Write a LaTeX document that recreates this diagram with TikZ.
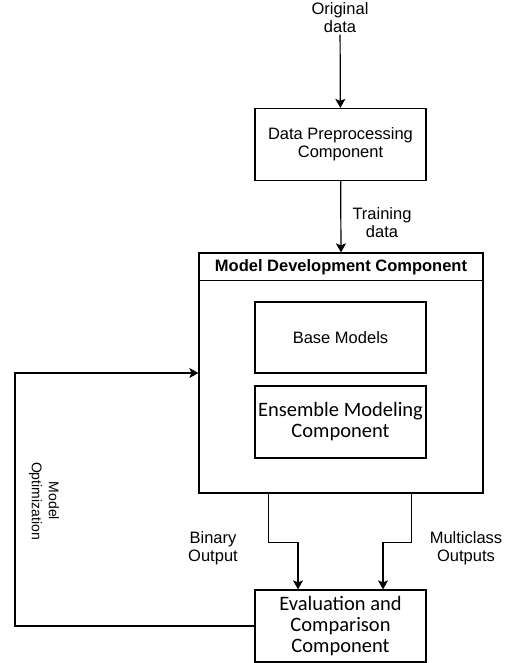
\documentclass[tikz,border=0pt]{standalone}
\usepackage{fontspec}
\setmainfont{Liberation Sans}
\newfontfamily\carlito{Carlito}
\usetikzlibrary{arrows.meta}
\begin{document}
\begin{tikzpicture}[x=1pt,y=-1pt,line width=1.2pt,
  box/.style={draw,minimum width=171pt,minimum height=72pt,align=center,inner sep=0pt},
  lbl/.style={align=center,inner sep=1pt},
  calibri/.style={font=\carlito\fontsize{20.5}{21}\selectfont},
  flow/.style={-{Stealth[length=9pt,width=10pt,inset=2pt]}}]
\useasboundingbox (0,0) rectangle (510,663);
\fontsize{16.5}{18}\selectfont
\node[lbl] (orig) at (340,18) {Original\\data};
\node[box] (dpc) at (340.5,144.5) {Data Preprocessing\\Component};
\node[draw,minimum width=284pt,minimum height=240pt,inner sep=0pt] (mdc) at (341,373) {};
\draw (mdc.north west) ++(0,28) coordinate (hdr) -- (hdr -| mdc.east);
\node[font=\bfseries] (mdctitle) at (341,267) {Model Development Component};
\node[box,minimum height=71pt] (base) at (340.5,337.5) {Base Models};
\node[box,calibri] (ens) at (340.5,422) {Ensemble Modeling\\Component};
\node[box,calibri] (eval) at (340.5,626) {Evaluation and\\Comparison\\Component};
\node[lbl] (bin) at (213,548) {Binary\\Output};
\node[lbl] (multi) at (466,548) {Multiclass\\Outputs};
\node[lbl,rotate=-90,font=\fontsize{14}{17}\selectfont] (opt) at (44,501) {Model\\Optimization};
\node[lbl] (train) at (382,223) {Training\\data};
\coordinate (loop) at (15,373);
% arrows
\draw[flow] (orig) -- (dpc);
\draw[flow] (dpc) -- (mdc.north);
\draw[flow] ([xshift=70pt]mdc.south west) -- ++(0,49) -| ([xshift=-42.5pt]eval.north);
\draw[flow] ([xshift=-72pt]mdc.south east) -- ++(0,49) -| ([xshift=42.5pt]eval.north);
\draw[flow] (eval.west) -| (loop) -- (mdc.west);
\end{tikzpicture}
\end{document}
